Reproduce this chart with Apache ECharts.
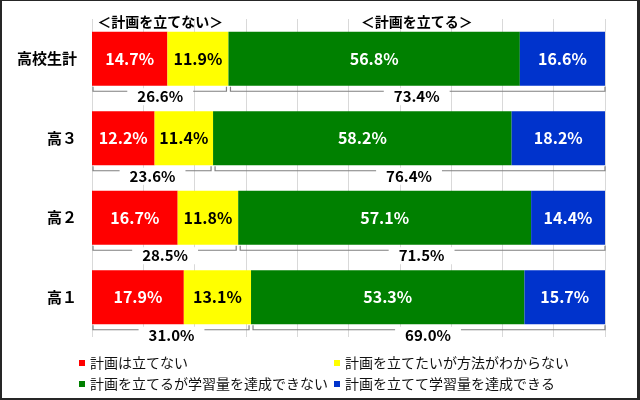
<!DOCTYPE html>
<html>
<head>
<meta charset="utf-8">
<script src="https://cdn.jsdelivr.net/npm/echarts@6/dist/echarts.min.js"></script>
<style>
  html, body { margin: 0; padding: 0; background: #fff; }
  #frame { position: absolute; left: 0; top: 0; width: 640px; height: 400px; box-sizing: border-box;
           border-left: 2px solid #262626; border-top: 1px solid #262626; border-right: 3px solid #262626; border-bottom: 2px solid #262626; }
  #chart { position: absolute; left: 0; top: 0; width: 640px; height: 400px; }
</style>
</head>
<body>
<div id="chart"></div>
<div id="frame"></div>
<script>
// ---- data ----
var categories = ['高校生計', '高３', '高２', '高１'];
var seriesNames = ['計画は立てない', '計画を立てたいが方法がわからない', '計画を立てるが学習量を達成できない', '計画を立てて学習量を達成できる'];
var noPlan = [14.7, 12.2, 16.7, 17.9];
var wantNoMethod = [11.9, 11.4, 11.8, 13.1];
var planNotAchieved = [56.8, 58.2, 57.1, 53.3];
var planAchieved = [16.6, 18.2, 14.4, 15.7];
var noPlanTotal = [26.6, 23.6, 28.5, 31.0];
var planTotal = [73.4, 76.4, 71.5, 69.0];
var groupHeaders = ['＜計画を立てない＞', '＜計画を立てる＞'];

var FONT = '"Noto Sans CJK JP", "Noto Sans", sans-serif';
var colors = ['#FF0000', '#FFFF00', '#008000', '#0033CC'];
var labelColors = ['#fff', '#000', '#fff', '#fff'];
var values = [noPlan, wantNoMethod, planNotAchieved, planAchieved];

var chart = echarts.init(document.getElementById('chart'));

var barSeries = values.map(function (arr, k) {
  return {
    name: seriesNames[k],
    type: 'bar',
    stack: 'total',
    barWidth: 54,
    data: arr,
    itemStyle: { color: colors[k] },
    label: {
      show: true,
      position: 'inside',
      formatter: function (p) { return p.value.toFixed(1) + '%'; },
      color: labelColors[k],
      fontFamily: FONT,
      fontWeight: 'bold',
      fontSize: 16
    }
  };
});

var bracketData = categories.map(function (c, i) { return [noPlanTotal[i], planTotal[i], i]; });

var bracketSeries = {
  type: 'custom',
  name: 'brackets',
  z: 5,
  clip: false,
  encode: { x: [0, 1], y: 2 },
  data: bracketData,
  renderItem: function (params, api) {
    var a = api.value(0), b = api.value(1), i = api.value(2);
    var p0 = api.coord([0, i]);
    var p1 = api.coord([a, i]);
    var p2 = api.coord([a + b, i]);
    var cy = p0[1];
    var barBottom = cy + 27;
    var lineY = cy + 32.5;
    var lblY = cy + 38;
    var stroke = { stroke: '#808080', lineWidth: 1.2, fill: null };
    function bracket(xa, xb) {
      return {
        type: 'polyline',
        shape: { points: [[xa, barBottom + 1], [xa, lineY], [xb, lineY], [xb, barBottom + 1]] },
        style: stroke
      };
    }
    function lbl(txt, x) {
      return {
        type: 'text',
        style: {
          text: txt, x: x, y: lblY, align: 'center', verticalAlign: 'middle',
          fill: '#000', font: 'bold 15px ' + FONT,
          backgroundColor: '#fff', padding: [1, 10]
        }
      };
    }
    var children = [
      bracket(p0[0] + 1, p1[0] - 2),
      bracket(p1[0] + 2, p2[0]),
      lbl(a.toFixed(1) + '%', (p0[0] + p1[0]) / 2),
      lbl(b.toFixed(1) + '%', (p1[0] + p2[0]) / 2)
    ];
    if (i === 0) {
      children.push({
        type: 'text',
        style: { text: groupHeaders[0], x: (p0[0] + p1[0]) / 2, y: cy - 37, align: 'center', verticalAlign: 'middle',
                 fill: '#000', font: 'bold 14px ' + FONT }
      });
      children.push({
        type: 'text',
        style: { text: groupHeaders[1], x: (p1[0] + p2[0]) / 2, y: cy - 37, align: 'center', verticalAlign: 'middle',
                 fill: '#000', font: 'bold 14px ' + FONT }
      });
    }
    return { type: 'group', children: children };
  }
};

function legendItem(name, left, top) {
  return {
    orient: 'horizontal',
    left: left,
    top: top,
    padding: 0,
    itemWidth: 6,
    itemHeight: 6,
    icon: 'rect',
    data: [name],
    textStyle: { fontFamily: FONT, fontSize: 14, color: '#111' }
  };
}

chart.setOption({
  animation: false,
  backgroundColor: '#fff',
  grid: { left: 92, right: 35, top: 19, bottom: 63 },
  legend: [
    legendItem(seriesNames[0], 79, 356),
    legendItem(seriesNames[2], 79, 377),
    legendItem(seriesNames[1], 334, 356),
    legendItem(seriesNames[3], 334, 377)
  ],
  xAxis: {
    type: 'value', min: 0, max: 100, interval: 10,
    axisLabel: { show: false }, axisLine: { show: false }, axisTick: { show: false },
    splitLine: { show: true, lineStyle: { color: '#d9d9d9', width: 1 } }
  },
  yAxis: {
    type: 'category', inverse: true, data: categories,
    axisLine: { show: false }, axisTick: { show: false },
    axisLabel: { fontFamily: FONT, fontWeight: 'bold', fontSize: 15, color: '#000', margin: 15 }
  },
  series: barSeries.concat([bracketSeries])
});
</script>
</body>
</html>
